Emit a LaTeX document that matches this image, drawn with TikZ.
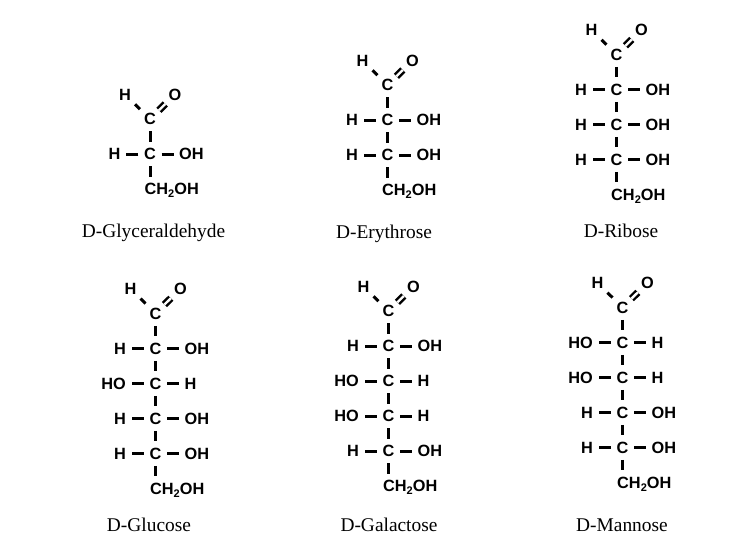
\documentclass[tikz,border=0pt]{standalone}
\usepackage{fontspec}
\setmainfont{Liberation Serif}
\newfontfamily\atomfont{Liberation Sans}
\usetikzlibrary{calc}
\tikzset{atom/.style={font=\atomfont\bfseries\fontsize{16.3}{18}\selectfont, inner sep=0pt, text height=11.5pt, text depth=0pt}}
\tikzset{bond/.style={line width=3pt, shorten <=5.5pt, shorten >=5.5pt}}
\tikzset{vbond/.style={line width=3pt, shorten <=6.5pt, shorten >=6.5pt}}
\tikzset{dbond/.style={line width=2.4pt, double, double distance=2.4pt, shorten <=4pt, shorten >=5pt}}
\tikzset{title/.style={font=\fontsize{19.4}{22}\selectfont, inner sep=0pt, anchor=base}}

% prefix, x, y of top carbon, rows, number of rows
\newcommand{\aldose}[5]{
  \node[atom] (#1c0) at (#2,#3) {C};
  \node[atom] (#1h) at (#2-25,#3-24.5) {H};
  \node[atom] (#1o) at (#2+25,#3-24.5) {O};
  \draw[bond] (#1c0) -- (#1h);
  \draw[dbond] (#1c0) -- (#1o);
  \foreach \i/\lt/\rt in {#4} {
    \pgfmathtruncatemacro{\j}{\i-1}
    \node[atom] (#1c\i) at (#2,#3+35*\i) {C};
    \node[atom, anchor=east] (#1l\i) at (#2-29.5,#3+35*\i) {\lt};
    \node[atom, anchor=west] (#1r\i) at (#2+29,#3+35*\i) {\rt};
    \draw[vbond] (#1c\j) -- (#1c\i);
    \draw[bond] (#1c\i) -- (#1l\i);
    \draw[bond] (#1c\i) -- (#1r\i);
  }
  \node[atom, anchor=west] (#1ch) at (#2-5.5,#3+35*#5+35)
    {CH\raisebox{-3pt}{\fontsize{11}{11}\selectfont 2}OH};
  \draw[vbond] (#1c#5) -- (#1c#5 |- #1ch.north);
}

\begin{document}
\begin{tikzpicture}[x=1pt,y=-1pt]
  \useasboundingbox (0,0) rectangle (752,555);

  \aldose{gly}{150}{119}{1/H/OH}{1}
  \aldose{ery}{387.5}{85}{1/H/OH,2/H/OH}{2}
  \aldose{rib}{616.5}{54.5}{1/H/OH,2/H/OH,3/H/OH}{3}
  \aldose{glu}{155.5}{313.3}{1/H/OH,2/HO/H,3/H/OH,4/H/OH}{4}
  \aldose{gal}{388.5}{311}{1/H/OH,2/HO/H,3/HO/H,4/H/OH}{4}
  \aldose{man}{622.5}{307.4}{1/HO/H,2/HO/H,3/H/OH,4/H/OH}{4}

  \node[title] (tgly) at (153.5,237) {D-Glyceraldehyde};
  \node[title] (tery) at (384,238) {D-Erythrose};
  \node[title] (trib) at (621,237) {D-Ribose};
  \node[title] (tglu) at (149,531) {D-Glucose};
  \node[title] (tgal) at (389,531) {D-Galactose};
  \node[title] (tman) at (622,531) {D-Mannose};
\end{tikzpicture}
\end{document}
